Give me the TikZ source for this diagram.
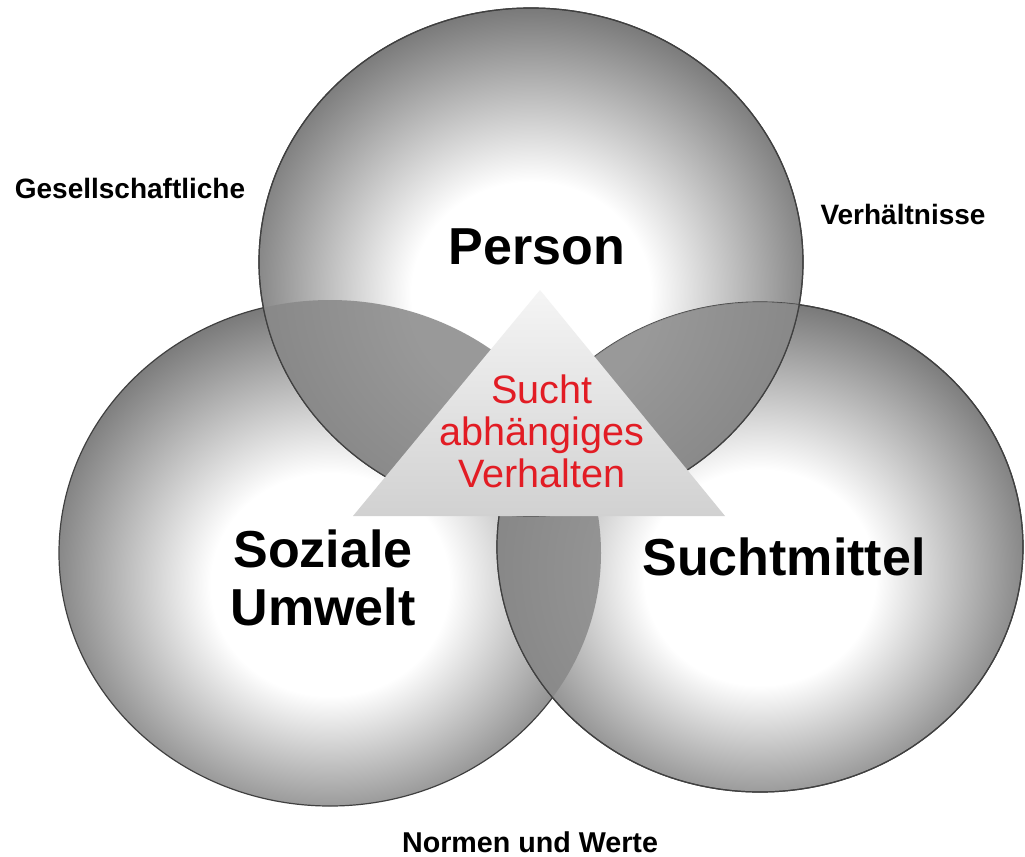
\documentclass[tikz,border=0pt]{standalone}
\usepackage{fontspec}
\setmainfont{Liberation Sans}
\usepackage{xcolor}
\usepackage{tikz}

\definecolor{rimgray}{RGB}{120,120,120}
\definecolor{lensgray}{RGB}{136,136,136}
\definecolor{suchtred}{RGB}{226,28,36}
\pgfdeclareradialshading{ballshade}{\pgfpoint{0bp}{-4bp}}{color(0bp)=(white); color(11bp)=(white); color(27bp)=(rimgray); color(50bp)=(rimgray)}

\begin{document}
\begin{tikzpicture}[x=0.75pt,y=0.75pt,yscale=-1,xscale=1,
  ball/.style={shading=ballshade},
  rim/.style={draw=black!75,line width=0.9pt},
  lens/.style={fill=lensgray,fill opacity=0.85},
  bigtext/.style={font=\fontsize{39}{43.5}\selectfont\bfseries,align=center,inner sep=0pt},
  sidetext/.style={font=\fontsize{21}{24}\selectfont\bfseries,inner sep=0pt},
  suchttext/.style={font=\fontsize{29.7}{31.5}\selectfont,text=suchtred,align=center,inner sep=0pt}]
\useasboundingbox (0,0) rectangle (1025,857);

%Centres of the three balls
\coordinate (cleft) at (330,553);
\coordinate (cright) at (760,547);
\coordinate (ctop) at (531,262);

%Shape: Ellipse [left]
\shade[ball] (cleft) ellipse [x radius=271,y radius=253];
\draw[rim] (cleft) ellipse [x radius=271,y radius=253];
%Shape: Ellipse [right]
\shade[ball] (cright) ellipse [x radius=263,y radius=245];
\draw[rim] (cright) ellipse [x radius=263,y radius=245];
%Shape: Ellipse [top]
\shade[ball] (ctop) ellipse [x radius=272,y radius=254];
\draw[rim] (ctop) ellipse [x radius=272,y radius=254];

%Overlap left / right
\begin{scope}
\clip (cleft) ellipse [x radius=271,y radius=253];
\fill[lens] (cright) ellipse [x radius=263,y radius=245];
\end{scope}
\draw[rim] (cright) ellipse [x radius=263,y radius=245];
%Overlap top / left
\begin{scope}
\clip (cleft) ellipse [x radius=271,y radius=253];
\fill[lens] (ctop) ellipse [x radius=272,y radius=254];
\end{scope}
%Overlap top / right
\begin{scope}
\clip (cright) ellipse [x radius=263,y radius=245];
\fill[lens] (ctop) ellipse [x radius=272,y radius=254];
\end{scope}
\draw[rim] (ctop) ellipse [x radius=272,y radius=254];

%Shape: Triangle
\shade[top color=black!4,bottom color=black!18] (540,290) -- (725,516) -- (353,516) -- cycle;

% Text Node
\node[bigtext] (person) at (537,247) {Person};
% Text Node
\node[bigtext] (umwelt) at (323,578) {Soziale\\Umwelt};
% Text Node
\node[bigtext] (mittel) at (784,557) {Suchtmittel};
% Text Node
\node[suchttext] (sucht) at (542,431) {Sucht\\abhängiges\\Verhalten};
% Text Node
\node[sidetext] (gesell) at (130,188) {Gesellschaftliche};
% Text Node
\node[sidetext] (verh) at (903,214) {Verhältnisse};
% Text Node
\node[sidetext,font=\fontsize{21.5}{24}\selectfont\bfseries] (normen) at (530,842) {Normen und Werte};

\end{tikzpicture}
\end{document}
